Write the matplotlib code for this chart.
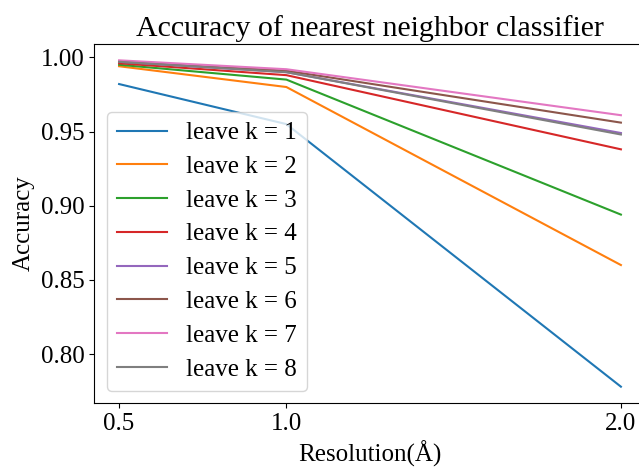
import matplotlib
matplotlib.use("Agg")
import matplotlib.pyplot as plt

# resolution values (x) and accuracy per "leave k" setting
resolution = [0.5, 1.0, 2.0]
acc_k1 = [0.982, 0.955, 0.778]
acc_k2 = [0.994, 0.980, 0.860]
acc_k3 = [0.995, 0.985, 0.894]
acc_k4 = [0.996, 0.988, 0.938]
acc_k5 = [0.997, 0.990, 0.949]
acc_k6 = [0.997, 0.991, 0.956]
acc_k7 = [0.998, 0.992, 0.961]
acc_k8 = [0.997, 0.990, 0.948]
series = [acc_k1, acc_k2, acc_k3, acc_k4, acc_k5, acc_k6, acc_k7, acc_k8]
labels = [f"leave k = {k}" for k in range(1, 9)]
xtick_labels = ["0.5", "1.0", "2.0"]

plt.rcParams["font.family"] = ["Liberation Serif", "DejaVu Serif"]

fig = plt.figure(figsize=(6.39, 4.68), dpi=100)
ax = fig.add_axes([94 / 639, 1 - 403 / 468, 552 / 639, 359 / 468])

for vals, lab in zip(series, labels):
    ax.plot(resolution, vals, label=lab)

ax.set_xticks(resolution)
ax.set_xticklabels(xtick_labels)
ax.set_yticks([0.80, 0.85, 0.90, 0.95, 1.00])
ax.tick_params(labelsize=18)
ax.set_xlabel("Resolution(Å)", fontsize=18)
ax.set_ylabel("Accuracy", fontsize=18)
ax.set_title("Accuracy of nearest neighbor classifier", fontsize=21.5)
ax.legend(loc="lower left", fontsize=18, labelspacing=0.45)

fig.savefig("out.png", dpi=100)
